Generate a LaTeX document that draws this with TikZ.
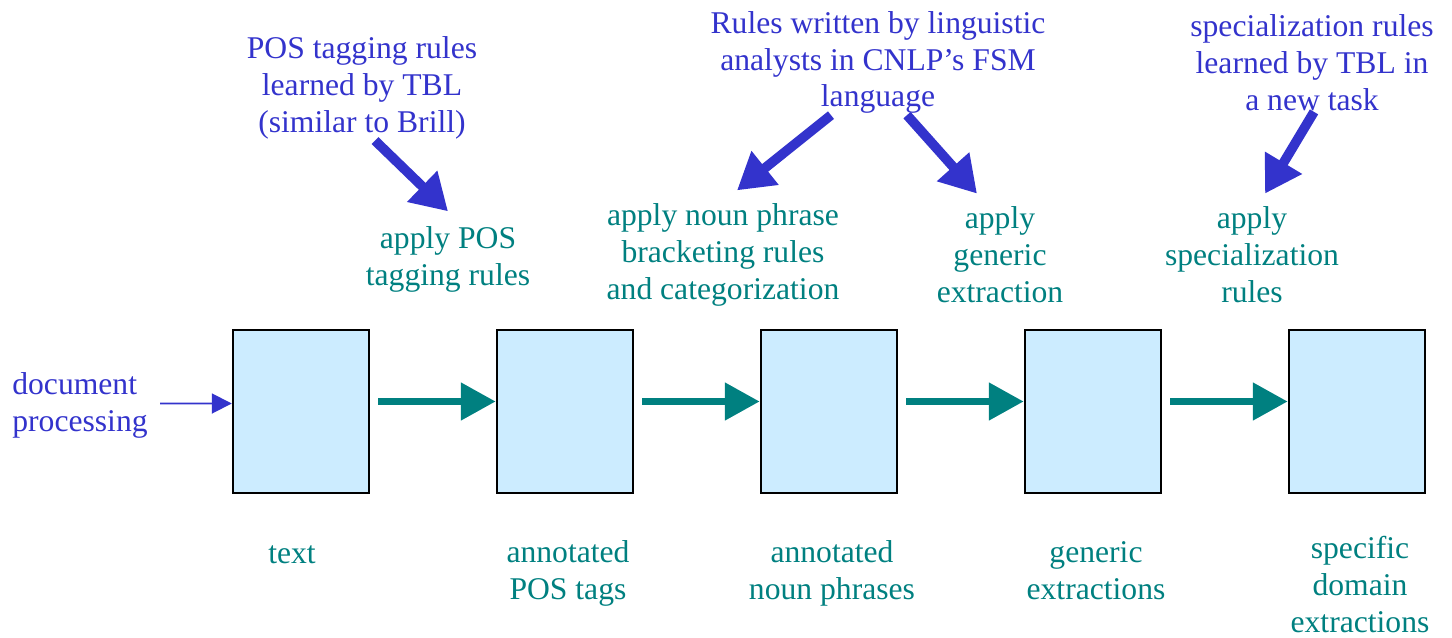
\documentclass[tikz,border=0pt]{standalone}
\usepackage{fontspec}
\setmainfont{Liberation Serif}
\usetikzlibrary{arrows.meta}

\definecolor{ruleblue}{RGB}{51,51,204}
\definecolor{stepteal}{RGB}{0,128,128}
\definecolor{boxfill}{RGB}{204,236,255}

\tikzset{
  stagebox/.style={draw=black, line width=1.4pt, fill=boxfill,
    minimum width=2.72cm, minimum height=3.26cm, inner sep=0pt},
  bluetext/.style={text=ruleblue, align=center, inner sep=0pt,
    font=\fontsize{18}{21}\selectfont},
  tealtext/.style={text=stepteal, align=center, inner sep=0pt,
    font=\fontsize{18}{21}\selectfont},
  flowarrow/.style={draw=stepteal, line width=4.5pt,
    -{Triangle[length=0.7cm, width=0.72cm]}},
  rulearrow/.style={draw=ruleblue, line width=5.5pt,
    -{Triangle[length=0.72cm, width=0.82cm]}},
  inarrow/.style={draw=ruleblue, line width=1.1pt,
    -{Triangle[length=0.4cm, width=0.4cm]}}
}

\begin{document}
\begin{tikzpicture}
    \useasboundingbox (0,0) rectangle (29.04,-12.76);

    % Draw stage boxes
    \foreach \i/\xpos in {1/6.02, 2/11.30, 3/16.58, 4/21.86, 5/27.14} {
        \node[stagebox] (b\i) at (\xpos,-8.23) {};
    }

    % Draw flow arrows between boxes
    \foreach \i/\j in {1/2, 2/3, 3/4, 4/5} {
        \draw[flowarrow, shorten <=0.16cm] ([yshift=0.2cm]b\i.east) -- ([yshift=0.2cm]b\j.west);
    }

    % Input to the first box
    \node[bluetext, anchor=west, align=left] (doc) at (0.24,-8.11) {document\\processing};
    \coordinate (docin) at (3.2,-8.07);
    \draw[inarrow] (docin) -- ([yshift=0.16cm]b1.west);

    % Box labels
    \node[tealtext] (l1) at (5.84,-11.10) {text};
    \node[tealtext] (l2) at (11.36,-11.47) {annotated\\POS tags};
    \node[tealtext] (l3) at (16.64,-11.47) {annotated\\noun phrases};
    \node[tealtext] (l4) at (21.92,-11.41) {generic\\extractions};
    \node[tealtext] (l5) at (27.20,-11.69) {specific\\domain\\extractions};

    % Processing steps
    \node[tealtext] (pos-step) at (8.96,-5.19) {apply POS\\tagging rules};
    \node[tealtext] (np-step) at (14.46,-5.10) {apply noun phrase\\bracketing rules\\and categorization};
    \node[tealtext] (gen-step) at (20.00,-5.10) {apply\\generic\\extraction};
    \node[tealtext] (spec-step) at (25.04,-5.10) {apply\\specialization\\rules};

    % Rule sources
    \node[bluetext] (pos-src) at (7.24,-1.76) {POS tagging rules\\learned by TBL\\(similar to Brill)};
    \node[bluetext] (fsm-src) at (17.56,-1.25) {Rules written by linguistic\\analysts in CNLP's FSM\\language};
    \node[bluetext] (spec-src) at (26.24,-1.25) {specialization rules\\learned by TBL in\\a new task};

    % Rules feeding the steps
    \draw[rulearrow] ([xshift=0.26cm,yshift=-0.02cm]pos-src.south) -- ([yshift=0.3cm]pos-step.north);
    \draw[rulearrow] ([xshift=-0.94cm,yshift=-0.02cm]fsm-src.south) -- ([xshift=0.28cm,yshift=0.26cm]np-step.north);
    \draw[rulearrow] ([xshift=0.58cm,yshift=-0.02cm]fsm-src.south) -- ([xshift=-0.46cm,yshift=0.26cm]gen-step.north);
    \draw[rulearrow] ([xshift=0.04cm,yshift=-0.02cm]spec-src.south) -- ([xshift=0.26cm,yshift=0.26cm]spec-step.north);

\end{tikzpicture}
\end{document}
